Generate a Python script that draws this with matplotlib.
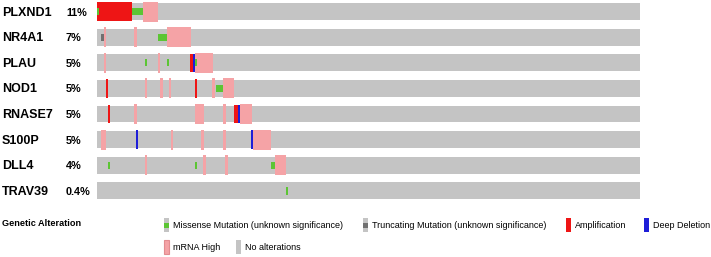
import matplotlib
matplotlib.use("Agg")
import matplotlib.pyplot as plt
from matplotlib.patches import Rectangle

plt.rcParams["font.family"] = ["Liberation Sans", "DejaVu Sans"]

# samples in the oncoprint, genes and their alteration frequency
n_samples = 250
genes = ["PLXND1", "NR4A1", "PLAU", "NOD1", "RNASE7", "S100P", "DLL4", "TRAV39"]
freq_labels = ["11%", "7%", "5%", "5%", "5%", "5%", "4%", "0.4%"]

# sample indices per gene for each alteration type
amplification = [
    [0, 1, 2, 3, 4, 5, 6, 7, 8, 9, 10, 11, 12, 13, 14, 15],
    [], [43], [4, 45], [5, 63, 64], [], [], [],
]
deep_deletion = [[], [], [44], [], [65], [18, 71], [], []]
mrna_high = [
    [21, 22, 23, 24, 25, 26, 27],
    [3, 17, 32, 33, 34, 35, 36, 37, 38, 39, 40, 41, 42],
    [3, 28, 45, 46, 47, 48, 49, 50, 51, 52],
    [22, 29, 33, 53, 58, 59, 60, 61, 62],
    [17, 45, 46, 47, 48, 58, 66, 67, 68, 69, 70],
    [2, 3, 34, 48, 58, 72, 73, 74, 75, 76, 77, 78, 79],
    [22, 49, 59, 82, 83, 84, 85, 86],
    [],
]
missense = [
    [0, 16, 17, 18, 19, 20],
    [28, 29, 30, 31],
    [22, 32, 45],
    [55, 56, 57],
    [],
    [],
    [5, 45, 80, 81],
    [87],
]
truncating = [[], [2], [], [], [], [], [], []]

GREY = "#C4C4C4"
PINK = "#F5A3A6"
RED = "#EE1515"
BLUE = "#1E1ED8"
GREEN = "#5CC534"
TRUNC = "#707070"

W, H = 711, 257
fig = plt.figure(figsize=(W / 100, H / 100), dpi=100)

# background axes in pixel coordinates for the legend
leg = fig.add_axes([0, 0, 1, 1])
leg.set_xlim(0, W)
leg.set_ylim(H, 0)
leg.axis("off")

# main oncoprint axes
x0, x1, ytop, ybot = 97, 640, 0, 204
ax = fig.add_axes([x0 / W, 1 - ybot / H, (x1 - x0) / W, (ybot - ytop) / H])
ax.set_xlim(0, n_samples)
ax.set_ylim(7.51, -0.449)
ax.axis("off")

grey_h, cna_h, mrna_h, mut_h = 0.66, 0.72, 0.78, 0.28
samples = list(range(n_samples))
for i, g in enumerate(genes):
    ax.bar(samples, grey_h, bottom=i - grey_h / 2, width=1, align="edge",
           color=GREY, linewidth=0)
    ax.bar(mrna_high[i], mrna_h, bottom=i - mrna_h / 2, width=1.2, align="edge",
           color=PINK, linewidth=0)
    ax.bar(amplification[i], cna_h, bottom=i - cna_h / 2, width=1, align="edge",
           color=RED, linewidth=0)
    ax.bar(deep_deletion[i], cna_h, bottom=i - cna_h / 2, width=1, align="edge",
           color=BLUE, linewidth=0)
    ax.bar(missense[i], mut_h, bottom=i - mut_h / 2, width=1, align="edge",
           color=GREEN, linewidth=0)
    ax.bar(truncating[i], mut_h, bottom=i - mut_h / 2, width=1, align="edge",
           color=TRUNC, linewidth=0)

    ax.annotate(g, xy=(2 / W, i + 0.04), xycoords=("figure fraction", "data"),
                va="center", ha="left", fontsize=9, fontweight="bold")
    ax.annotate(freq_labels[i], xy=(66 / W, i + 0.04),
                xycoords=("figure fraction", "data"),
                va="center", ha="left", fontsize=7.8, fontweight="bold")

# legend
leg.text(2, 223, "Genetic Alteration", fontsize=6.6, fontweight="bold",
         va="center", ha="left")


def glyph(x, y, inner=None, fill=GREY, edge=None, w=4.5):
    leg.add_patch(Rectangle((x, y - 7), w, 14, facecolor=fill,
                            edgecolor=edge or "none", linewidth=0.8 if edge else 0))
    if inner:
        leg.add_patch(Rectangle((x, y - 2.5), w, 5, facecolor=inner, linewidth=0))


items = [
    (164, 225, dict(inner=GREEN), "Missense Mutation (unknown significance)"),
    (363, 225, dict(inner=TRUNC), "Truncating Mutation (unknown significance)"),
    (566, 225, dict(fill=RED), "Amplification"),
    (644, 225, dict(fill=BLUE), "Deep Deletion"),
    (164, 247, dict(fill=PINK, edge="#E28C90", w=5), "mRNA High"),
    (236, 247, dict(), "No alterations"),
]
for gx, gy, kw, label in items:
    glyph(gx, gy, **kw)
    leg.text(gx + 9, gy, label, fontsize=6.5, va="center", ha="left")

fig.savefig("out.png", dpi=100)
